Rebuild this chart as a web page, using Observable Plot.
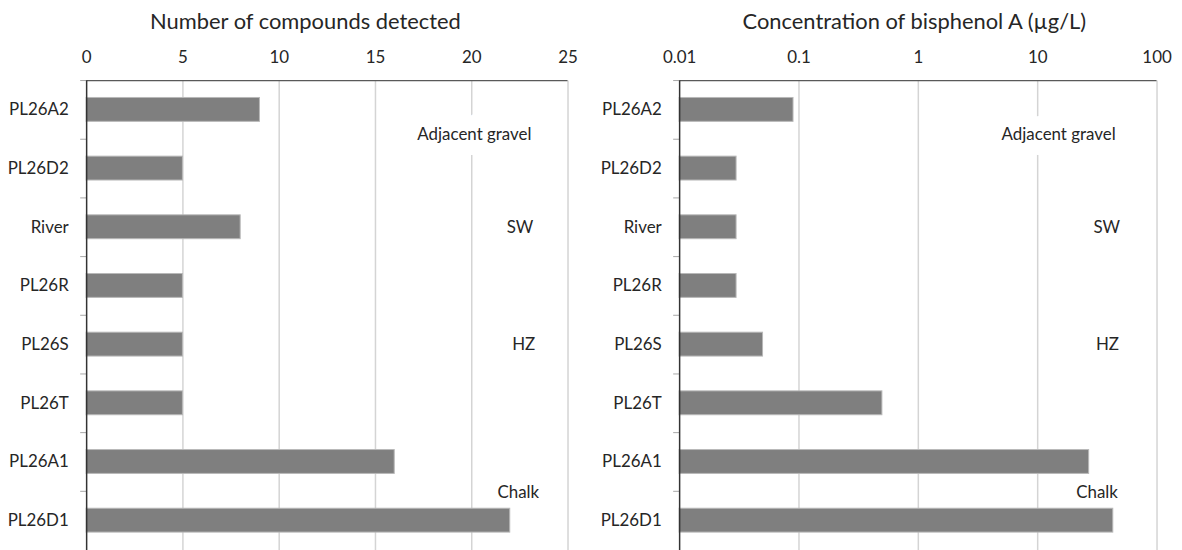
<!DOCTYPE html>
<html><head><meta charset="utf-8">
<script src="https://cdn.jsdelivr.net/npm/d3@7"></script>
<script src="https://cdn.jsdelivr.net/npm/@observablehq/plot@0.6"></script>
<style>
html,body{margin:0;padding:0;background:#fff;overflow:hidden;}
#wrap{display:flex;width:1182px;height:550px;overflow:hidden;}
#wrap svg{display:block;flex:none;}
</style></head><body><div id="wrap"></div>
<script>
const categories = ["PL26A2","PL26D2","River","PL26R","PL26S","PL26T","PL26A1","PL26D1"];
const compounds = [9,5,8,5,5,5,16,22];
const bpa = [0.09,0.03,0.03,0.03,0.05,0.5,27,43];
const countTicks = [0,5,10,15,20,25];
const bpaTicks = [0.01,0.1,1,10,100];
const countTitle = "Number of compounds detected";
const bpaTitle = "Concentration of bisphenol A (\u00b5g/L)";
const zoneLabels = ["Adjacent gravel","SW","HZ","Chalk"];
const zoneCats = ["PL26A2","River","PL26S","PL26D1"];
const zoneCountX = [23.1,23.2,23.3,23.5];
const zoneBpaX = [45,49,48,47];
const zoneShift = [25, 0, 0, -28];

const FONT = "Lato, 'Open Sans', sans-serif";
const INK = "#262626";
const TOP = 81, BOTTOM = 553, H = 553;
const step = (BOTTOM - TOP) / categories.length;

function chart({values, ticks, type, zoneX, title, marginLeft, marginRight, titleDx, tickFormat}) {
  const d0 = ticks[0], d1 = ticks[ticks.length - 1];
  const data = categories.map((c, i) => ({cat: c, v: values[i]}));
  const zones = zoneLabels.map((t, i) => ({t, cat: zoneCats[i], x: zoneX[i], dy: zoneShift[i]}));
  const zoneMarks = zones.map((z, i) => Plot.text([z], {
    x: "x", y: "cat", dy: z.dy, text: "t", textAnchor: "end", fontSize: 17, fill: INK,
    ...(i === 0 ? {stroke: "#fff", strokeWidth: 30, paintOrder: "stroke"} : {})
  }));
  return Plot.plot({
    width: 591, height: H,
    marginTop: TOP, marginBottom: H - BOTTOM, marginLeft, marginRight,
    style: {fontFamily: FONT, color: INK, background: "#fff"},
    x: {type, domain: [d0, d1]},
    y: {domain: categories, paddingInner: 0.593, paddingOuter: 0.2965, align: 0.5},
    marks: [
      Plot.ruleX(ticks.slice(1), {x: d => d, stroke: "#d4d4d4", strokeWidth: 1.5}),
      Plot.barX(data, {y: "cat", x1: d0, x2: "v", fill: "#7f7f7f", stroke: "#b8b8b8", strokeWidth: 1}),
      ...zoneMarks,
      Plot.ruleY(categories, {y: d => d, dy: -step / 2, x1: d0, x2: d0, insetLeft: -6, stroke: "#a6a6a6"}),
      Plot.ruleY(categories.slice(0, 1), {y: d => d, dy: -step / 2, stroke: "#595959", strokeWidth: 1.2}),
      Plot.ruleX([d0], {stroke: "#333", strokeWidth: 1.5}),
      Plot.axisX(ticks, {anchor: "top", tickSize: 0, tickPadding: 18, fontSize: 17, tickFormat, label: null}),
      Plot.axisY({anchor: "left", tickSize: 0, tickPadding: 18, fontSize: 17, label: null}),
      Plot.text([title], {frameAnchor: "top", dy: -68, dx: titleDx, fontSize: 22, fill: INK})
    ]
  });
}

const wrap = document.getElementById("wrap");
wrap.append(chart({values: compounds, ticks: countTicks, type: "linear", zoneX: zoneCountX, title: countTitle, marginLeft: 85, marginRight: 22, titleDx: -22, tickFormat: d => String(d)}));
wrap.append(chart({values: bpa, ticks: bpaTicks, type: "log", zoneX: zoneBpaX, title: bpaTitle, marginLeft: 87, marginRight: 24, titleDx: -4, tickFormat: d => String(d)}));
</script>
</body></html>
